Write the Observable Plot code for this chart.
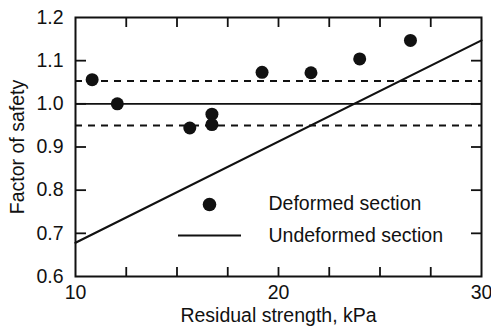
<!DOCTYPE html>
<html>
<head>
<meta charset="utf-8">
<script src="https://cdn.jsdelivr.net/npm/d3@7"></script>
<script src="https://cdn.jsdelivr.net/npm/@observablehq/plot@0.6"></script>
<style>
  html, body { margin: 0; padding: 0; background: #fff; }
  #chart { width: 491px; height: 330px; }
</style>
</head>
<body>
<div id="chart"></div>
<script>
// Deformed section: residual strength (kPa) vs factor of safety
const deformedStrength = [10.82, 12.06, 15.63, 16.72, 16.72, 19.19, 21.6, 24.0, 26.5];
const deformedFS       = [1.056, 1.0, 0.944, 0.976, 0.952, 1.073, 1.072, 1.104, 1.147];
// Undeformed section line (end points)
const undeformedStrength = [10, 30];
const undeformedFS       = [0.678, 1.147];
// Reference lines
const solidRefFS = [1.0];
const dashedRefFS = [1.053, 0.95];
// Axis ticks
const xDomain = [10, 30];
const yDomain = [0.6, 1.2];
const xTickLabels = [10, 20, 30];
const xMinorTicks = [12.5, 15, 17.5, 20, 22.5, 25, 27.5];
const yTicks = [0.6, 0.7, 0.8, 0.9, 1.0, 1.1, 1.2];
const yInnerTicks = [0.7, 0.8, 0.9, 1.0, 1.1];
const legendLabels = ["Deformed section", "Undeformed section"];

const deformed = deformedStrength.map((x, i) => ({x, y: deformedFS[i]}));
const undeformed = undeformedStrength.map((x, i) => ({x, y: undeformedFS[i]}));

const W = 491, H = 330;
const mL = 75, mR = 10, mT = 17, mB = 54;
const pw = W - mL - mR, ph = H - mT - mB;
const ink = "#111";
const fs = 19.5;

const chart = Plot.plot({
  width: W, height: H,
  marginLeft: mL, marginRight: mR, marginTop: mT, marginBottom: mB,
  style: {fontFamily: "'Liberation Sans', Arial, sans-serif", fontSize: fs + "px", color: ink, background: "#fff", overflow: "visible"},
  x: {domain: xDomain},
  y: {domain: yDomain},
  marks: [
    // reference lines
    Plot.ruleY(solidRefFS, {stroke: ink, strokeWidth: 1.8}),
    Plot.ruleY(dashedRefFS, {stroke: ink, strokeWidth: 2, strokeDasharray: "7,6"}),
    // undeformed line
    Plot.line(undeformed, {x: "x", y: "y", stroke: ink, strokeWidth: 2.2}),
    // deformed points
    Plot.dot(deformed, {x: "x", y: "y", r: 6.5, fill: ink, stroke: "none"}),
    // inward ticks
    Plot.tickX(xMinorTicks, {x: d => d, stroke: ink, strokeWidth: 1.8, insetTop: ph - 9}),
    Plot.tickX(xMinorTicks, {x: d => d, stroke: ink, strokeWidth: 1.8, insetBottom: ph - 10}),
    Plot.tickY(yInnerTicks, {y: d => d, stroke: ink, strokeWidth: 1.8, insetRight: pw - 11}),
    Plot.tickY(yInnerTicks, {y: d => d, stroke: ink, strokeWidth: 1.8, insetLeft: pw - 10}),
    // axes labels
    Plot.axisX(xTickLabels, {tickSize: 0, tickPadding: 9, fontSize: fs, label: null}),
    Plot.axisY(yTicks, {tickSize: 0, tickPadding: 12, fontSize: fs, label: null, tickFormat: d3.format(".1f")}),
    Plot.text(["Residual strength, kPa"], {frameAnchor: "bottom", dy: 39, lineAnchor: "middle", text: d => d, fontSize: fs, fill: ink}),
    Plot.text(["Factor of safety"], {frameAnchor: "left", dx: -58, rotate: -90, textAnchor: "middle", lineAnchor: "middle", text: d => d, fontSize: fs, fill: ink}),
    // legend
    Plot.dot([legendLabels[0]], {frameAnchor: "top-left", dx: 134, dy: 187, r: 6.8, fill: ink, stroke: "none"}),
    Plot.ruleY([yDomain[0]], {dy: -41, insetLeft: 103, insetRight: pw - 166, stroke: ink, strokeWidth: 2.2}),
    Plot.text([legendLabels[0]], {frameAnchor: "top-left", dx: 193, dy: 186, textAnchor: "start", lineAnchor: "middle", text: d => d, fontSize: fs, fill: ink}),
    Plot.text([legendLabels[1]], {frameAnchor: "top-left", dx: 193, dy: 218, textAnchor: "start", lineAnchor: "middle", text: d => d, fontSize: fs, fill: ink}),
    // frame
    Plot.frame({stroke: ink, strokeWidth: 2})
  ]
});
document.getElementById("chart").appendChild(chart);
</script>
</body>
</html>
